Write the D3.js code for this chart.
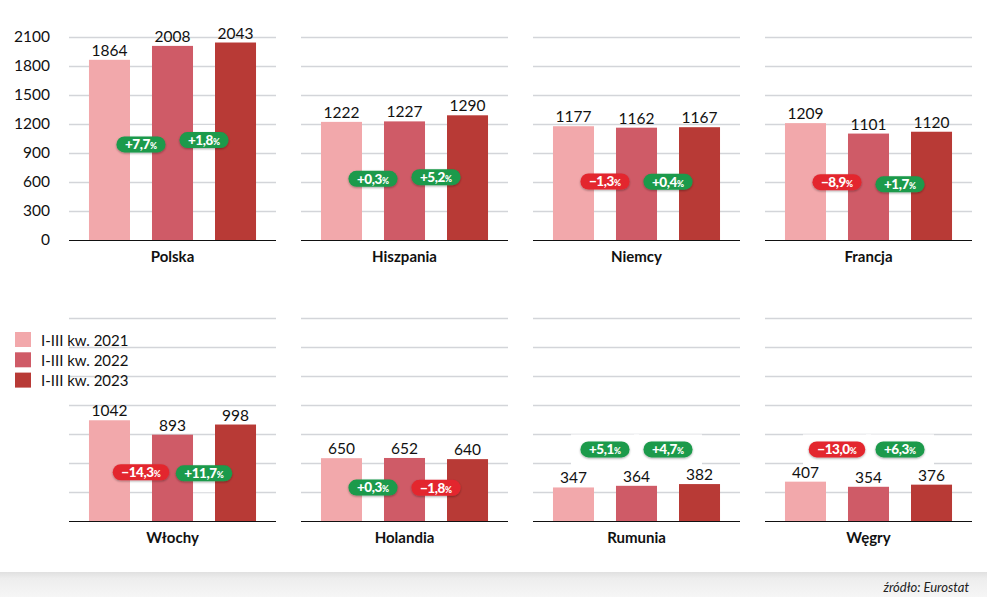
<!DOCTYPE html>
<html><head><meta charset="utf-8">
<script src="https://cdn.jsdelivr.net/npm/d3@7"></script>
<style>
html,body{margin:0;padding:0;background:#fff;}
svg{display:block;font-family:Lato,"Noto Sans",sans-serif;}
</style></head><body>
<svg id="c" width="987" height="597"></svg>
<script>
const countries = ["Polska","Hiszpania","Niemcy","Francja","Włochy","Holandia","Rumunia","Węgry"];
const seriesNames = ["I-III kw. 2021","I-III kw. 2022","I-III kw. 2023"];
const v2021 = [1864,1222,1177,1209,1042,650,347,407];
const v2022 = [2008,1227,1162,1101,893,652,364,354];
const v2023 = [2043,1290,1167,1120,998,640,382,376];
const change22 = ["+7,7","+0,3","−1,3","−8,9","−14,3","+0,3","+5,1","−13,0"];
const change23 = ["+1,8","+5,2","+0,4","+1,7","+11,7","−1,8","+4,7","+6,3"];
const yTicks = [0,300,600,900,1200,1500,1800,2100];
const source = "źródło: Eurostat";

const colors = ["#f2a8ab","#cf5b67","#b83a36"];
const green = "#1b9a4b", red = "#e3262f";

const svg = d3.select("#c");
const defs = svg.append("defs");
const f = defs.append("filter").attr("id","sh").attr("x","-30%").attr("y","-50%").attr("width","160%").attr("height","200%");
f.append("feDropShadow").attr("dx",0).attr("dy",1).attr("stdDeviation",1.2).attr("flood-color","#000").attr("flood-opacity",0.35);
const fg = defs.append("linearGradient").attr("id","foot").attr("x1",0).attr("x2",0).attr("y1",0).attr("y2",1);
fg.append("stop").attr("offset","0").attr("stop-color","#e0e0e0");
fg.append("stop").attr("offset","0.25").attr("stop-color","#ededed");
fg.append("stop").attr("offset","1").attr("stop-color","#f6f6f6");

// footer
svg.append("rect").attr("x",0).attr("y",572).attr("width",987).attr("height",25).attr("fill","url(#foot)");
svg.append("text").attr("x",969).attr("y",592).attr("text-anchor","end")
  .attr("font-size",13).attr("font-style","italic").attr("fill","#222").text(source);

const data = countries.map((c,i)=>({country:c, vals:[v2021[i],v2022[i],v2023[i]], ch:[change22[i],change23[i]]}));

const panelX = d3.scaleBand().domain(d3.range(4)).range([69, 972]).paddingInner(25/232).paddingOuter(0);
const pw = panelX.bandwidth();
const rows = [{base:240},{base:521}];
const x = d3.scaleBand().domain([0,1,2]).range([0,pw]).paddingInner(0.349).paddingOuter(0.317);

data.forEach((d,i)=>{
  const col = i%4, row = Math.floor(i/4);
  const base = rows[row].base;
  const y = d3.scaleLinear().domain([0,2100]).range([base, base-203]);
  const g = svg.append("g").attr("transform",`translate(${panelX(col)},0)`);
  // grid
  const ax = d3.axisLeft(y).tickValues(yTicks).tickSize(-pw).tickFormat(i===0? d3.format("d") : "");
  const ga = g.append("g").call(ax);
  ga.select(".domain").remove();
  ga.selectAll(".tick line").attr("stroke","#d3d5d9").attr("stroke-width",1.6).filter(t=>t===0).remove();
  ga.selectAll(".tick text").attr("font-size",15.5).attr("fill","#111").attr("x",-19).attr("font-family","Lato");
  // badge levels
  const levels = [0,1].map(k=>{
    const a = d.vals[k], b = d.vals[k+1];
    return Math.max(a,b) < 500 ? 720 : (a+b)/4;
  });
  // white glow behind badges
  levels.forEach((lv,k)=>{
    const cx = (x(k)+x.bandwidth()+x(k+1))/2;
    g.append("rect").attr("x",cx-34).attr("y",y(lv)-17).attr("width",68).attr("height",34).attr("fill","#fff");
  });
  // bars
  g.selectAll(".bar").data(d.vals).join("rect").attr("class","bar")
    .attr("x",(v,k)=>x(k)).attr("width",x.bandwidth())
    .attr("y",v=>y(v)).attr("height",v=>base-y(v)).attr("fill",(v,k)=>colors[k]);
  g.selectAll(".vl").data(d.vals).join("text").attr("class","vl")
    .attr("x",(v,k)=>x(k)+x.bandwidth()/2).attr("y",v=>y(v)-4)
    .attr("text-anchor","middle").attr("font-size",15.5).attr("fill","#111").text(v=>v);
  // baseline
  g.append("line").attr("x1",0).attr("x2",pw).attr("y1",base+0.5).attr("y2",base+0.5).attr("stroke","#111").attr("stroke-width",1.2);
  // country label
  g.append("text").attr("x",pw/2).attr("y",base+22).attr("text-anchor","middle")
    .attr("font-size",15).attr("font-weight",700).attr("fill","#111").text(d.country);
  // badges
  levels.forEach((lv,k)=>{
    const cx = (x(k)+x.bandwidth()+x(k+1))/2;
    const cy = y(lv) - 2;
    const lab = d.ch[k];
    const bg = g.append("g");
    const rect = bg.append("rect").attr("fill", lab.startsWith("+")?green:red).attr("filter","url(#sh)");
    const t = bg.append("text").attr("fill","#fff").attr("font-weight",900).attr("font-size",13.5)
      .attr("y",cy+4.8).attr("letter-spacing",-0.4);
    t.append("tspan").text(lab);
    t.append("tspan").attr("font-size",8.5).attr("letter-spacing",0).text("%");
    const w = t.node().getComputedTextLength();
    t.attr("x",cx-w/2);
    const bw = w+17, bh = 16;
    rect.attr("x",cx-bw/2).attr("y",cy-bh/2).attr("width",bw).attr("height",bh).attr("rx",bh/2);
  });
});

// legend
const lg = svg.append("g");
seriesNames.forEach((s,k)=>{
  lg.append("rect").attr("x",15).attr("y",332+k*20.3).attr("width",16).attr("height",15).attr("fill",colors[k]);
  lg.append("text").attr("x",41).attr("y",345.5+k*20.3).attr("font-size",15).attr("fill","#111").text(s);
});
</script>
</body></html>
